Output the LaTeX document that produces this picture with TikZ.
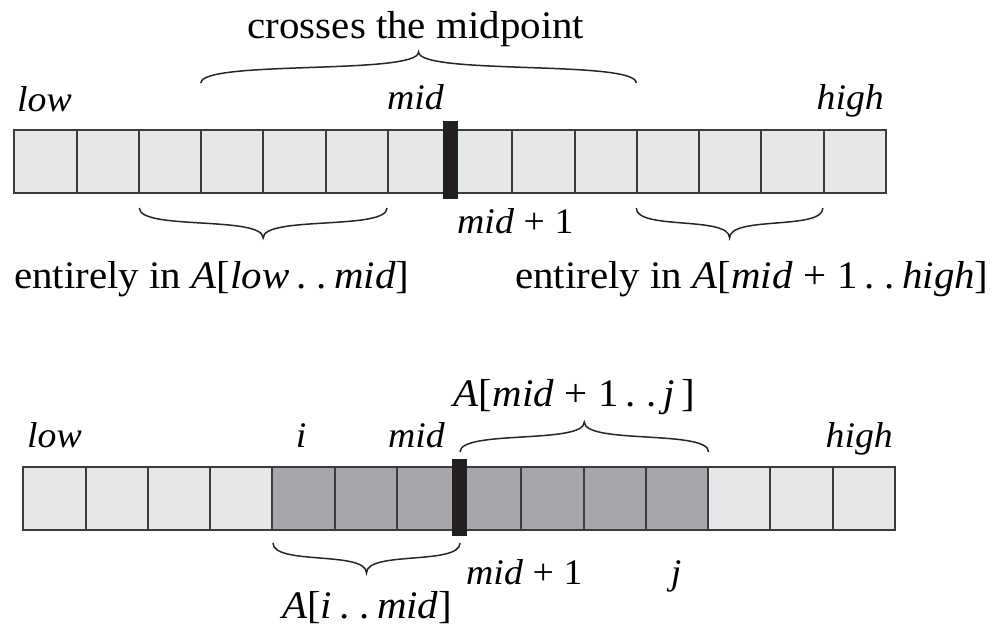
\documentclass[tikz,border=0pt]{standalone}
\usepackage{fontspec}
\setmainfont{Liberation Serif}[FakeStretch=1.05]

\definecolor{cellLight}{HTML}{E6E7E8}
\definecolor{cellDark}{HTML}{A6A7AA}
\definecolor{cellEdge}{HTML}{3C3C3C}
\definecolor{barInk}{HTML}{231F20}

% two spaced periods used in subarray ranges
\newcommand{\dotpair}{\kern0.18em.\kern0.26em.\kern0.18em}
% "+ 1" with operator spacing
\newcommand{\plusone}{\kern0.27em+\kern0.27em1}

% curly brace between x=#1 and x=#2, ends at height #3, tip at height #4
\newcommand{\curlybrace}[4]{%
  \pgfmathsetmacro{\cbm}{(#1+#2)/2}%
  \pgfmathsetmacro{\cbp}{#3+0.75*(#4-#3)}%
  \pgfmathsetmacro{\cbq}{#3+0.25*(#4-#3)}%
  \draw[bracepen] (#1,#3) .. controls (#1,\cbp) and (\cbm,\cbq) .. (\cbm,#4)
    .. controls (\cbm,\cbq) and (#2,\cbp) .. (#2,#3);}

\tikzset{
  cell/.style={draw=cellEdge, line width=2pt, minimum width=62.25pt,
    minimum height=62.7pt, inner sep=0pt, outer sep=0pt},
  lightcell/.style={cell, fill=cellLight},
  darkcell/.style={cell, fill=cellDark},
  divider/.style={fill=barInk, draw=none, minimum width=15pt,
    minimum height=77pt, inner sep=0pt},
  bracepen/.style={line width=1.5pt, draw=black!85},
  lbl/.style={inner sep=0pt, font=\fontsize{36}{42}\selectfont},
  txt/.style={inner sep=0pt, font=\fontsize{39}{46}\selectfont},
}

\begin{document}
\begin{tikzpicture}[x=1pt, y=-1pt]
\useasboundingbox (0,0) rectangle (1005,626);

% ---------- upper array ----------
\foreach \k in {0,...,13}
  \node[lightcell] (t\k) at ({14.3+(\k+0.5)*62.25}, 161.35) {};
\node[divider] (tbar) at (450.1,160) {};

\node[txt, anchor=base] (tcross) at (416,39) {crosses the midpoint};
\curlybrace{200.9}{636.3}{83}{52}

\node[lbl, anchor=base west] (tlow)  at (17,111)  {\textit{low}};
\node[lbl, anchor=base east] (tmid)  at (444,110) {\textit{mid}};
\node[lbl, anchor=base east] (thigh) at (884,110) {\textit{high}};
\node[lbl, anchor=base west] (tmidp) at (457,233) {\textit{mid}\plusone};

\curlybrace{139.3}{387}{208}{238}
\curlybrace{636.3}{822.9}{208}{238}

\node[txt, anchor=base west] (tleft)  at (14,288)
  {entirely in \textit{A}[\textit{low}\dotpair\textit{mid}]};
\node[txt, anchor=base west] (tright) at (515,288)
  {entirely in \textit{A}[\textit{mid}\plusone\dotpair\textit{high}]};

% ---------- lower array ----------
\foreach \k in {0,...,3,11,12,13}
  \node[lightcell] (b\k) at ({23.3+(\k+0.5)*62.25}, 498.2) {};
\foreach \k in {4,...,10}
  \node[darkcell] (b\k) at ({23.3+(\k+0.5)*62.25}, 498.2) {};
\node[divider] (bbar) at (459.9,497.2) {};

\node[txt, anchor=base west] (bright) at (453.5,406)
  {\textit{A}[\textit{mid}\plusone\dotpair\textit{j}\,]};
\curlybrace{460}{708.6}{452}{422}

\node[lbl, anchor=base west] (blow)  at (27,447)  {\textit{low}};
\node[lbl, anchor=base]      (bi)    at (301,447) {\textit{i}};
\node[lbl, anchor=base east] (bmid)  at (445,447) {\textit{mid}};
\node[lbl, anchor=base east] (bhigh) at (893,447) {\textit{high}};

\node[lbl, anchor=base west] (bmidp) at (466,584) {\textit{mid}\plusone};
\node[lbl, anchor=base]      (bj)    at (676,584) {\textit{j}};

\curlybrace{273}{460}{543}{573}
\node[txt, anchor=base west] (bleft) at (282,618)
  {\textit{A}[\textit{i}\dotpair\textit{mid}]};
\end{tikzpicture}
\end{document}
